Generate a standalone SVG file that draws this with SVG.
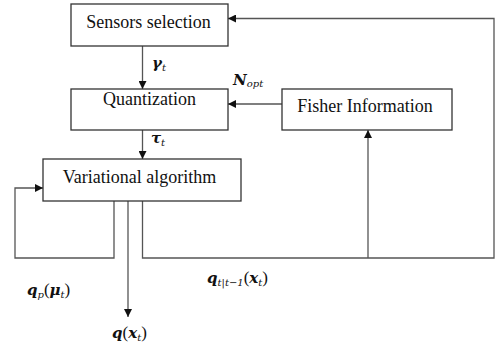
<svg xmlns="http://www.w3.org/2000/svg" width="497" height="347" viewBox="0 0 497 347">
  <defs>
    <marker id="arrow" viewBox="0 0 10 10" refX="10" refY="5" markerWidth="9" markerHeight="8" markerUnits="userSpaceOnUse" orient="auto">
      <path d="M0,0 L10,5 L0,10 Z" fill="#111"/>
    </marker>
    <style>
      .box { fill: #fff; stroke: #333; stroke-width: 1.3; }
      .lbl { font-family: "Liberation Serif", "DejaVu Serif", serif; font-size: 18px; fill: #111; }
      .wire { fill: none; stroke: #555; stroke-width: 1.3; }
      .math { font-family: "DejaVu Serif", "Liberation Serif", serif; font-weight: bold; font-style: italic; font-size: 15px; fill: #111; }
      .sub { font-size: 10px; font-weight: normal; }
      .par { font-family: "Liberation Serif", serif; font-weight: normal; font-style: normal; font-size: 17px; }
    </style>
  </defs>

  <rect width="497" height="347" fill="#fff"/>

  <!-- connectors -->
  <g id="connectors">
    <line class="wire" x1="142.5" y1="46" x2="142.5" y2="89" marker-end="url(#arrow)"/>
    <line class="wire" x1="142.5" y1="130" x2="142.5" y2="159" marker-end="url(#arrow)"/>
    <line class="wire" x1="282" y1="104" x2="228" y2="104" marker-end="url(#arrow)"/>
    <!-- outer feedback to sensors selection -->
    <polyline class="wire" points="142.5,201 142.5,258 494,258 494,18.5 228,18.5" marker-end="url(#arrow)"/>
    <!-- branch to Fisher information -->
    <line class="wire" x1="368" y1="258" x2="368" y2="130" marker-end="url(#arrow)"/>
    <!-- self loop of the variational algorithm -->
    <polyline class="wire" points="114,201 114,258 15,258 15,188 43,188" marker-end="url(#arrow)"/>
    <!-- output -->
    <line class="wire" x1="128" y1="201" x2="128" y2="317" marker-end="url(#arrow)"/>
  </g>

  <!-- edge labels -->
  <g id="edge-labels">
    <text class="math" x="152" y="68">γ<tspan class="sub" dy="3">t</tspan></text>
    <text class="math" x="151" y="143">τ<tspan class="sub" dy="3">t</tspan></text>
    <text class="math" x="233" y="85">N<tspan class="sub" dy="2">opt</tspan></text>
    <text class="math" x="27" y="295" font-size="16">q<tspan class="sub" dy="3">p</tspan><tspan class="par" dy="-3">(</tspan>μ<tspan class="sub" dy="3">t</tspan><tspan class="par" dy="-3">)</tspan></text>
    <text class="math" x="112" y="338" font-size="16">q<tspan class="par">(</tspan>x<tspan class="sub" dy="3">t</tspan><tspan class="par" dy="-3">)</tspan></text>
    <text class="math" x="207" y="283" font-size="16">q<tspan class="sub" dy="3">t|t−1</tspan><tspan class="par" dy="-3">(</tspan>x<tspan class="sub" dy="3">t</tspan><tspan class="par" dy="-3">)</tspan></text>
  </g>

  <g id="sensors-selection">
    <rect class="box" x="71" y="4" width="157" height="42"/>
    <text class="lbl" x="148.5" y="28" text-anchor="middle">Sensors selection</text>
  </g>
  <g id="quantization">
    <rect class="box" x="71" y="89" width="157" height="41"/>
    <text class="lbl" x="149.5" y="105" text-anchor="middle">Quantization</text>
  </g>
  <g id="fisher-information">
    <rect class="box" x="282" y="89" width="170" height="41"/>
    <text class="lbl" x="365" y="112" text-anchor="middle">Fisher Information</text>
  </g>
  <g id="variational-algorithm">
    <rect class="box" x="43" y="159" width="198" height="42"/>
    <text class="lbl" x="139.5" y="183" text-anchor="middle">Variational algorithm</text>
  </g>
</svg>
